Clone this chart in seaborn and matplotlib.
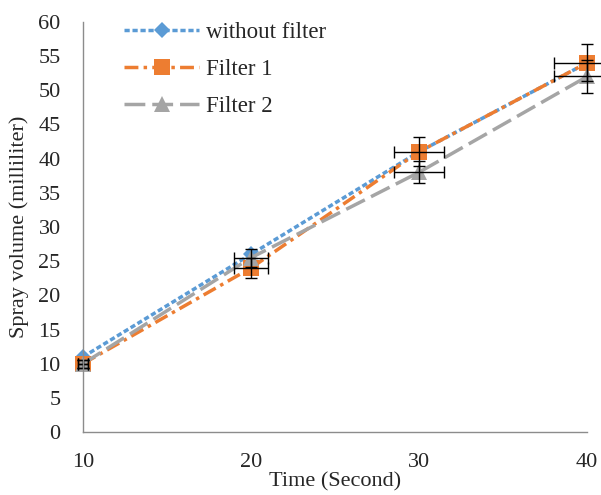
import matplotlib
matplotlib.use("Agg")
import matplotlib.pyplot as plt
import pandas as pd
import seaborn as sns

time_s = [10, 20, 30, 40]
without_filter = [11, 26, 41, 54]
filter_1 = [10, 24, 41, 54]
filter_2 = [10, 25.5, 38, 52]
x_err = [0.3, 1.0, 1.5, 2.0]
f1_yerr = [0.6, 1.4, 2.1, 2.7]
f2_yerr = [0.6, 1.3, 1.6, 2.4]

names = ["without filter", "Filter 1", "Filter 2"]
colors = {"without filter": "#5B9BD5", "Filter 1": "#ED7D31", "Filter 2": "#A5A5A5"}

df = pd.concat([
    pd.DataFrame({"time": time_s, "volume": without_filter, "series": names[0]}),
    pd.DataFrame({"time": time_s, "volume": filter_1, "series": names[1]}),
    pd.DataFrame({"time": time_s, "volume": filter_2, "series": names[2]}),
])

sns.set_style("white")
plt.rcParams["font.family"] = ["Liberation Serif", "DejaVu Serif"]

fig = plt.figure(figsize=(6.01, 4.95), dpi=100)
ax = fig.add_axes([0.138, 0.127, 0.839, 0.829])

sns.lineplot(data=df, x="time", y="volume", hue="series", style="series",
             palette=colors,
             dashes={"without filter": (1.5, 0.8), "Filter 1": (4, 1.5, 1, 1.5), "Filter 2": (6, 2)},
             markers={"without filter": "D", "Filter 1": "s", "Filter 2": "^"},
             markersize=11, markeredgewidth=0, linewidth=2.5, ax=ax, clip_on=False)

ax.errorbar(time_s, filter_1, xerr=x_err, yerr=f1_yerr, fmt="none",
            ecolor="black", elinewidth=1, capsize=4, capthick=1, clip_on=False)
ax.errorbar(time_s, filter_2, xerr=x_err, yerr=f2_yerr, fmt="none",
            ecolor="black", elinewidth=1, capsize=4, capthick=1, clip_on=False)

ax.set_xlim(10, 40)
ax.set_ylim(0, 60)
ax.set_xticks(time_s)
ax.set_yticks(range(0, 61, 5))
ax.tick_params(axis="both", labelsize=16, length=0)
ax.tick_params(axis="x", pad=15)
ax.tick_params(axis="y", pad=16)
for s in ["top", "right"]:
    ax.spines[s].set_visible(False)
for s in ["left", "bottom"]:
    ax.spines[s].set_color("#8C8C8C")
    ax.spines[s].set_linewidth(1)

ax.set_xlabel("Time (Second)", fontsize=16, labelpad=0)
ax.set_ylabel("Spray volume (milliliter)", fontsize=16, labelpad=7)

leg = ax.legend(loc="upper left", bbox_to_anchor=(0.04, 1.05), frameon=False,
                fontsize=16.5, handlelength=3.3, labelspacing=0.7, handletextpad=0.3)

# smaller diamonds, as in the original
for ln in list(ax.lines) + list(leg.get_lines()):
    if ln.get_marker() == "D":
        ln.set_markersize(8)

fig.savefig("out.png", dpi=100)
